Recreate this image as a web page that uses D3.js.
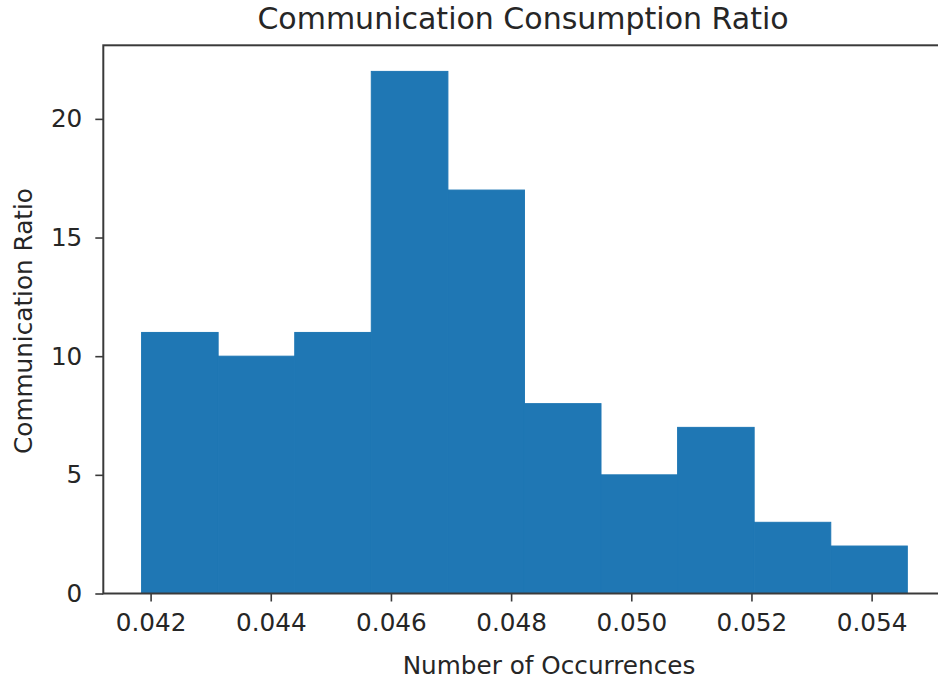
<!DOCTYPE html>
<html>
<head>
<meta charset="utf-8">
<script src="https://cdn.jsdelivr.net/npm/d3@7"></script>
<style>
  html, body { margin: 0; padding: 0; background: #fff; }
  svg { display: block; font-family: "DejaVu Sans", sans-serif; }
</style>
</head>
<body>
<svg id="chart" width="938" height="680"></svg>
<script>
// Histogram bins: edges and counts per bin
const binEdges = [0.04185, 0.043124, 0.044399, 0.045673, 0.046948, 0.048222,
                  0.049496, 0.050771, 0.052045, 0.053320, 0.054594];
const counts = [11, 10, 11, 22, 17, 8, 5, 7, 3, 2];
const xTicks = [0.042, 0.044, 0.046, 0.048, 0.050, 0.052, 0.054];
const yTicks = [0, 5, 10, 15, 20];

const titleText = "Communication Consumption Ratio";
const xLabel = "Number of Occurrences";
const yLabel = "Communication Ratio";

const svg = d3.select("#chart");
const plot = { left: 103.3, right: 945.6, top: 45.3, bottom: 593.5 };

const bins = counts.map((c, i) => ({ x0: binEdges[i], x1: binEdges[i + 1], count: c }));

const lo = binEdges[0], hi = binEdges[binEdges.length - 1];
const pad = (hi - lo) * 0.05;
const x = d3.scaleLinear().domain([lo - pad, hi + pad]).range([plot.left, plot.right]);
const y = d3.scaleLinear().domain([0, d3.max(counts) * 1.05]).range([plot.bottom, plot.top]);

// Bars
svg.append("g")
  .selectAll("rect")
  .data(bins)
  .join("rect")
  .attr("x", d => x(d.x0))
  .attr("width", d => x(d.x1) - x(d.x0))
  .attr("y", d => y(d.count))
  .attr("height", d => y(0) - y(d.count))
  .attr("fill", "#1f77b4")
  .attr("stroke", "#1f77b4")
  .attr("stroke-width", 1);

const axisColor = "#3a3a3a";
const textColor = "#262626";
const tickFont = 24.7;

// X axis
const xAxis = svg.append("g")
  .attr("transform", `translate(0,${plot.bottom})`)
  .call(d3.axisBottom(x).tickValues(xTicks).tickFormat(d3.format(".3f")).tickSize(8).tickPadding(12));
xAxis.select(".domain").remove();
xAxis.selectAll("line").attr("stroke", axisColor).attr("stroke-width", 1.6);
xAxis.selectAll("text").attr("font-size", tickFont).attr("fill", textColor).attr("font-family", "DejaVu Sans");

// Y axis
const yAxis = svg.append("g")
  .attr("transform", `translate(${plot.left},0)`)
  .call(d3.axisLeft(y).tickValues(yTicks).tickFormat(d3.format("d")).tickSize(8).tickPadding(13));
yAxis.select(".domain").remove();
yAxis.selectAll("line").attr("stroke", axisColor).attr("stroke-width", 1.6);
yAxis.selectAll("text").attr("font-size", tickFont).attr("fill", textColor).attr("font-family", "DejaVu Sans");

// Frame (spines)
svg.append("rect")
  .attr("x", plot.left)
  .attr("y", plot.top)
  .attr("width", plot.right - plot.left)
  .attr("height", plot.bottom - plot.top)
  .attr("fill", "none")
  .attr("stroke", axisColor)
  .attr("stroke-width", 2);

// Title and axis labels
svg.append("text")
  .attr("x", 523)
  .attr("y", 29)
  .attr("text-anchor", "middle")
  .attr("font-size", 30)
  .attr("fill", textColor)
  .text(titleText);

svg.append("text")
  .attr("x", 549)
  .attr("y", 674)
  .attr("text-anchor", "middle")
  .attr("font-size", 24.7)
  .attr("fill", textColor)
  .text(xLabel);

svg.append("text")
  .attr("transform", `translate(32,321) rotate(-90)`)
  .attr("text-anchor", "middle")
  .attr("font-size", 24.7)
  .attr("fill", textColor)
  .text(yLabel);
</script>
</body>
</html>
